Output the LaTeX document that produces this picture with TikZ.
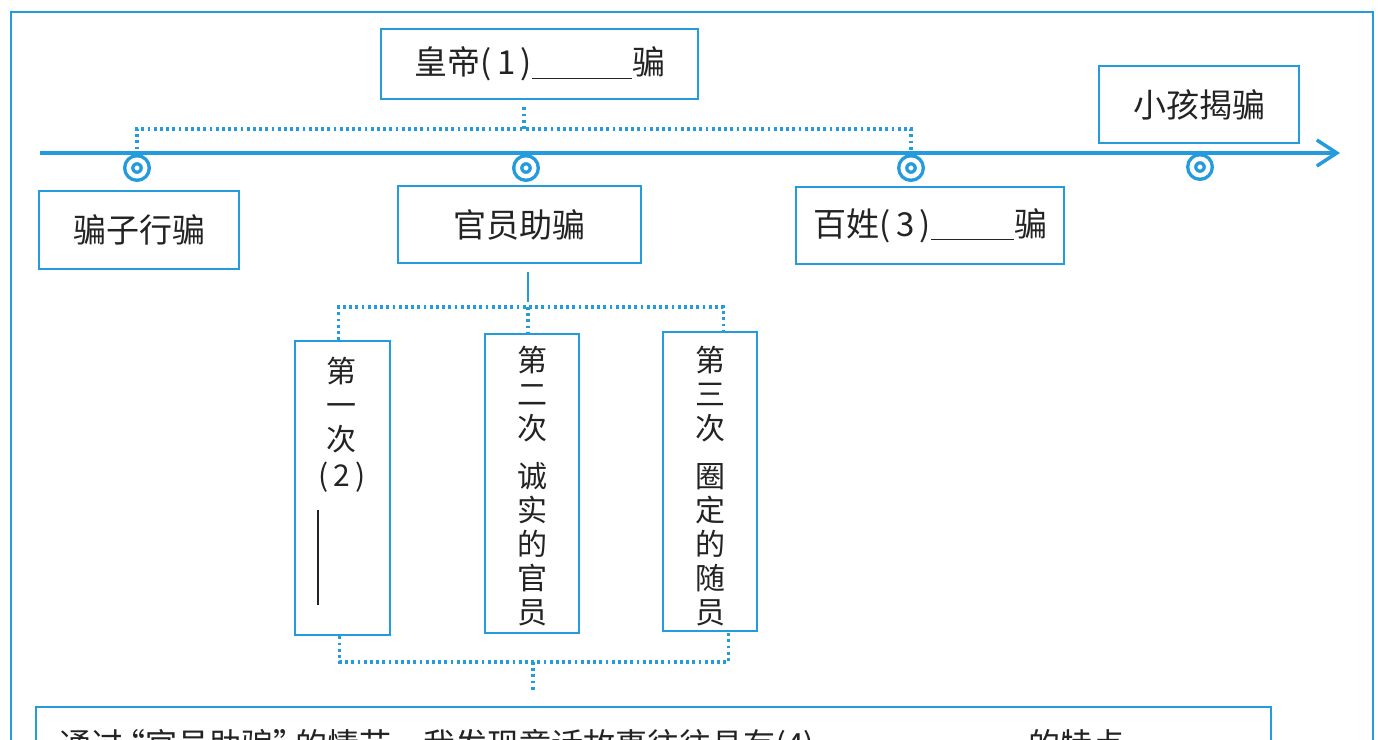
\documentclass[tikz,border=0pt]{standalone}
\usepackage{fontspec}
\setmainfont{Noto Sans CJK SC}
\usetikzlibrary{arrows.meta,calc}
\definecolor{lb}{RGB}{35,155,220}
\definecolor{ink}{RGB}{35,35,35}
\newcommand{\myLQ}{\makebox[22pt][r]{“}}
\newcommand{\myRQ}{\makebox[22pt][l]{”}}
\begin{document}
\begin{tikzpicture}[x=1pt,y=-1pt,
  box/.style={draw=lb,line width=2.4pt,rectangle,inner sep=0pt,anchor=north west,text=ink,font=\fontsize{33}{36}\selectfont},
  dotline/.style={lb,line width=3.2pt,dash pattern=on 2.8pt off 3.4pt},
  ring/.style={circle,draw=lb,fill=white,double=white,double distance=4.5pt,line width=3.4pt,minimum size=16.5pt,inner sep=0pt},
  vtxt/.style={anchor=north,align=center,text=ink,font=\fontsize{30}{34}\selectfont,inner sep=0pt}]
\useasboundingbox (0,0) rectangle (1383,739);
\fill[white] (0,0) rectangle (1383,739);
% outer frame
\draw[lb,line width=2pt] (11,800) -- (11,12) -- (1373,12) -- (1373,800);
% boxes
\node[box,minimum width=317pt,minimum height=70pt] (emp) at (380,28) {皇帝(\,1\,)\rule[-4pt]{100pt}{1.2pt}骗};
\node[box,minimum width=200pt,minimum height=77pt] (kid) at (1098,65) {小孩揭骗};
\node[box,minimum width=200pt,minimum height=78pt] (pz) at (38,190) {骗子行骗};
\node[box,minimum width=243pt,minimum height=77pt] (gy) at (397,185) {官员助骗};
\node[box,minimum width=268pt,minimum height=77pt] (bx) at (795,186) {百姓(\,3\,)\rule[-4pt]{83pt}{1.2pt}骗};
\node[box,minimum width=95pt,minimum height=294pt] (b1) at (294,340) {};
\node[box,minimum width=94pt,minimum height=299pt] (b2) at (484,333) {};
\node[box,minimum width=94pt,minimum height=299pt] (b3) at (662,331) {};
\node[box,minimum width=1235pt,minimum height=100pt] (bot) at (35,706) {};
% vertical texts
\node[vtxt] (t1) at ($(b1.north)+(-1,17)$) {第\\一\\次\\[2pt](\,2\,)};
\draw[ink,line width=1.2pt] ($(b1.north west)+(24,170)$) -- ++(0,95);
\node[vtxt] (t2) at ($(b2.north)+(0,13)$) {第\\二\\次\\[14pt]诚\\实\\的\\官\\员};
\node[vtxt] (t3) at ($(b3.north)+(0,15)$) {第\\三\\次\\[14pt]圈\\定\\的\\随\\员};
% bottom text (cut by the page edge as in the reference)
\node[anchor=base west,text=ink,font=\fontsize{32}{36}\selectfont,inner sep=0pt] (q) at (59,756) {通过\myLQ 官员助骗\myRQ 的情节，我发现童话故事往往具有(4)\rule[-4pt]{214pt}{1.2pt}的特点};
% circle marker positions
\coordinate (c1p) at (137,168);
\coordinate (c2p) at (526,168);
\coordinate (c3p) at (911,168);
\coordinate (c4p) at (1200,167);
% dotted connectors from the emperor box
\coordinate (j1) at (524,129);
\draw[dotline] ($(emp.south -| j1)+(0,7)$) -- (j1);
\draw[dotline] (c1p) -- (c1p |- j1) -- (c3p |- j1) -- (c3p);
% timeline
\coordinate (tl0) at (40,153);
\coordinate (tl1) at (1340,153);
\draw[lb,line width=3.5pt,-{Straight Barb[length=20pt,width=26pt]}] (tl0) -- (tl1);
\node[ring] (c1) at (c1p) {};
\node[ring] (c2) at (c2p) {};
\node[ring] (c3) at (c3p) {};
\node[ring] (c4) at (c4p) {};
% below the officials box
\coordinate (j2) at (528,307);
\draw[lb,line width=2.2pt] ($(gy.south -| j2)+(0,8)$) -- ($(j2)+(0,-5)$);
\draw[dotline] ($(b1.north)+(-4,0)$) |- (j2) -| ($(b3.north)+(13,0)$);
\draw[dotline] (j2) -- (b2.north -| j2);
% bottom bracket
\coordinate (j3) at (533,662);
\draw[dotline] ($(b1.south)+(-3,0)$) |- (j3) -| ($(b3.south)+(18,0)$);
\draw[dotline] (j3) -- ($(bot.north -| j3)+(0,-16)$);
\end{tikzpicture}
\end{document}
